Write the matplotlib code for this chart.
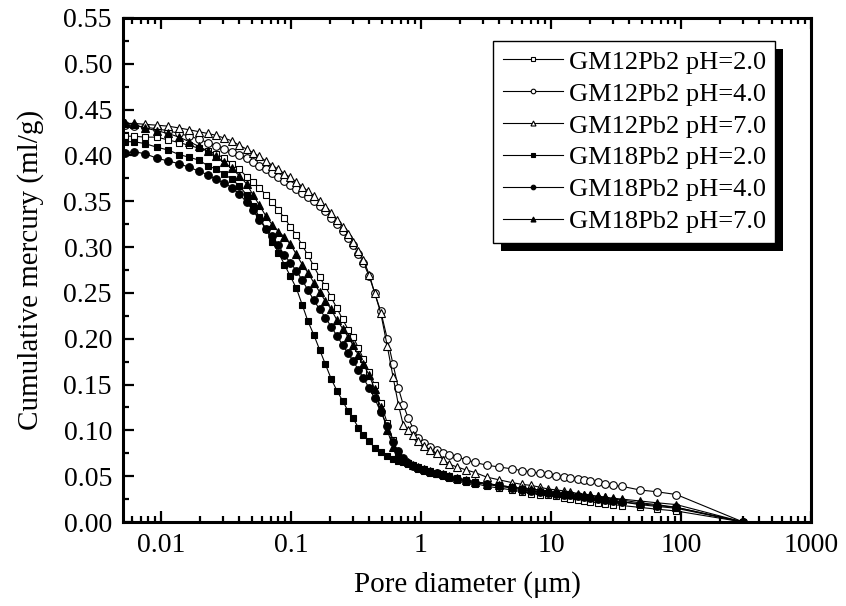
import matplotlib
matplotlib.use("Agg")
import matplotlib.pyplot as plt
from matplotlib.patches import Rectangle
from matplotlib.transforms import IdentityTransform
from matplotlib.ticker import FixedLocator, NullFormatter, MultipleLocator, FixedFormatter

plt.rcParams['font.family'] = ['Liberation Serif', 'DejaVu Serif']

# Pore diameter grid (um), shared by all samples
X = [0.0053, 0.0062, 0.0075, 0.0093, 0.0113, 0.0138, 0.0165, 0.0195, 0.0228, 0.0265,
     0.0305, 0.035, 0.040, 0.0455, 0.051, 0.057, 0.064, 0.072, 0.080, 0.089,
     0.099, 0.110, 0.122, 0.135, 0.150, 0.166, 0.184, 0.204, 0.226, 0.25,
     0.275, 0.30, 0.33, 0.36, 0.40, 0.44, 0.49, 0.55, 0.61, 0.67,
     0.73, 0.80, 0.87, 0.95, 1.05, 1.18, 1.32, 1.48, 1.65, 1.9,
     2.2, 2.6, 3.2, 4.0, 5.0, 6.0, 7.0, 8.2, 9.5, 11,
     12.5, 14, 16, 18, 20, 23, 26, 30, 35, 48,
     65, 92, 300]

gm12_ph2 = [0.421, 0.421, 0.420, 0.420, 0.417, 0.414, 0.411, 0.408, 0.405, 0.402,
            0.397, 0.391, 0.385, 0.377, 0.371, 0.365, 0.357, 0.349, 0.340, 0.332,
            0.322, 0.313, 0.302, 0.291, 0.279, 0.267, 0.257, 0.245, 0.233, 0.221,
            0.210, 0.202, 0.190, 0.178, 0.164, 0.149, 0.130, 0.108, 0.089, 0.074,
            0.068, 0.064, 0.061, 0.058, 0.056, 0.054, 0.052, 0.050, 0.048, 0.046,
            0.044, 0.042, 0.039, 0.037, 0.035, 0.033, 0.031, 0.030, 0.029, 0.028,
            0.026, 0.025, 0.024, 0.023, 0.022, 0.021, 0.020, 0.019, 0.018, 0.016,
            0.014, 0.012, 0.0]

gm12_ph4 = [0.433, 0.432, 0.431, 0.429, 0.427, 0.424, 0.421, 0.418, 0.414, 0.410,
            0.407, 0.404, 0.401, 0.397, 0.393, 0.389, 0.385, 0.381, 0.377, 0.372,
            0.368, 0.363, 0.359, 0.355, 0.350, 0.345, 0.339, 0.332, 0.325, 0.318,
            0.310, 0.302, 0.293, 0.283, 0.268, 0.250, 0.230, 0.200, 0.172, 0.146,
            0.128, 0.113, 0.102, 0.092, 0.086, 0.082, 0.079, 0.075, 0.073, 0.071,
            0.068, 0.065, 0.062, 0.060, 0.058, 0.056, 0.055, 0.053, 0.052, 0.050,
            0.049, 0.048, 0.047, 0.046, 0.045, 0.044, 0.042, 0.040, 0.039, 0.035,
            0.033, 0.030, 0.0]

gm12_ph7 = [0.435, 0.435, 0.434, 0.433, 0.432, 0.430, 0.428, 0.426, 0.424, 0.422,
            0.419, 0.416, 0.411, 0.407, 0.403, 0.399, 0.394, 0.389, 0.385, 0.380,
            0.376, 0.371, 0.366, 0.361, 0.356, 0.350, 0.344, 0.337, 0.330, 0.322,
            0.314, 0.306, 0.296, 0.286, 0.270, 0.250, 0.228, 0.192, 0.158, 0.128,
            0.106, 0.100, 0.095, 0.088, 0.083, 0.079, 0.075, 0.068, 0.063, 0.060,
            0.057, 0.054, 0.049, 0.046, 0.043, 0.041, 0.040, 0.038, 0.036, 0.035,
            0.034, 0.033, 0.031, 0.030, 0.029, 0.028, 0.027, 0.025, 0.024, 0.021,
            0.019, 0.016, 0.0]

gm18_ph2 = [0.415, 0.415, 0.413, 0.409, 0.406, 0.401, 0.398, 0.395, 0.389, 0.385,
            0.380, 0.374, 0.367, 0.357, 0.345, 0.333, 0.320, 0.306, 0.294, 0.281,
            0.268, 0.255, 0.237, 0.219, 0.204, 0.188, 0.172, 0.156, 0.143, 0.132,
            0.121, 0.113, 0.103, 0.095, 0.088, 0.081, 0.076, 0.072, 0.069, 0.067,
            0.065, 0.063, 0.062, 0.060, 0.058, 0.056, 0.054, 0.052, 0.050, 0.048,
            0.046, 0.044, 0.042, 0.040, 0.038, 0.036, 0.034, 0.033, 0.032, 0.031,
            0.030, 0.029, 0.028, 0.027, 0.026, 0.025, 0.024, 0.023, 0.022, 0.019,
            0.017, 0.015, 0.0]

gm18_ph4 = [0.403, 0.404, 0.402, 0.397, 0.394, 0.391, 0.387, 0.383, 0.379, 0.374,
            0.370, 0.365, 0.358, 0.349, 0.340, 0.330, 0.320, 0.312, 0.302, 0.291,
            0.283, 0.274, 0.264, 0.253, 0.242, 0.232, 0.223, 0.213, 0.203, 0.193,
            0.184, 0.176, 0.166, 0.157, 0.146, 0.135, 0.120, 0.105, 0.087, 0.077,
            0.070, 0.064, 0.061, 0.059, 0.057, 0.055, 0.053, 0.051, 0.049, 0.047,
            0.045, 0.043, 0.041, 0.039, 0.037, 0.035, 0.034, 0.033, 0.032, 0.031,
            0.030, 0.029, 0.028, 0.027, 0.026, 0.025, 0.024, 0.023, 0.022, 0.020,
            0.018, 0.016, 0.0]

gm18_ph7 = [0.435, 0.434, 0.430, 0.427, 0.424, 0.420, 0.415, 0.410, 0.405, 0.399,
            0.393, 0.386, 0.378, 0.369, 0.357, 0.346, 0.334, 0.324, 0.317, 0.311,
            0.303, 0.292, 0.281, 0.272, 0.261, 0.251, 0.241, 0.232, 0.220, 0.211,
            0.202, 0.193, 0.182, 0.172, 0.160, 0.145, 0.125, 0.100, 0.082, 0.073,
            0.068, 0.065, 0.062, 0.060, 0.058, 0.056, 0.054, 0.052, 0.050, 0.048,
            0.046, 0.044, 0.042, 0.040, 0.038, 0.037, 0.036, 0.035, 0.034, 0.033,
            0.032, 0.031, 0.030, 0.030, 0.029, 0.028, 0.027, 0.026, 0.025, 0.023,
            0.021, 0.019, 0.0]

labels = ["GM12Pb2 pH=2.0", "GM12Pb2 pH=4.0", "GM12Pb2 pH=7.0",
          "GM18Pb2 pH=2.0", "GM18Pb2 pH=4.0", "GM18Pb2 pH=7.0"]
series = [gm12_ph2, gm12_ph4, gm12_ph7, gm18_ph2, gm18_ph4, gm18_ph7]
markers = ['s', 'o', '^', 's', 'o', '^']
faces = ['white', 'white', 'white', 'black', 'black', 'black']
msizes = [5.0, 5.5, 6.0, 5.0, 5.5, 6.0]

W, H = 846, 606
fig = plt.figure(figsize=(W / 100, H / 100), dpi=100)
ax = fig.add_axes([123 / W, 1 - 522 / H, (811 - 123) / W, (522 - 18) / H])

for ys, lab, mk, fc, ms in zip(series, labels, markers, faces, msizes):
    ax.plot(X, ys, color='black', lw=0.8, marker=mk, markersize=ms,
            markerfacecolor=fc, markeredgecolor='black', markeredgewidth=0.8,
            label=lab)

ax.set_xscale('log')
ax.set_xlim(0.0051, 1000)
ax.set_ylim(0, 0.55)

xt = [0.01, 0.1, 1, 10, 100, 1000]
xtl = ["0.01", "0.1", "1", "10", "100", "1000"]
ax.xaxis.set_major_locator(FixedLocator(xt))
ax.xaxis.set_major_formatter(FixedFormatter(xtl))
minor = []
for d in [0.001, 0.01, 0.1, 1, 10, 100]:
    for k in range(2, 10):
        v = d * k
        if 0.0051 <= v <= 1000:
            minor.append(v)
ax.xaxis.set_minor_locator(FixedLocator(minor))
ax.xaxis.set_minor_formatter(NullFormatter())

ax.yaxis.set_major_locator(MultipleLocator(0.05))
ax.yaxis.set_minor_locator(MultipleLocator(0.025))
ax.yaxis.set_major_formatter(matplotlib.ticker.FormatStrFormatter('%.2f'))

ax.tick_params(which='both', direction='in', top=True, right=False, width=1.6)
ax.tick_params(which='major', length=8, labelsize=20, pad=8)
ax.tick_params(which='minor', length=4.5)
for s in ax.spines.values():
    s.set_linewidth(2.2)

ax.set_xlabel("Pore diameter (\u03bcm)", fontsize=21, labelpad=9)
ax.set_ylabel("Cumulative mercury (ml/g)", fontsize=21, labelpad=14)

leg = ax.legend(loc='upper right', bbox_to_anchor=(775 / W, 1 - 41 / H),
                bbox_transform=fig.transFigure, fontsize=19, frameon=True,
                fancybox=False, edgecolor='black', framealpha=1,
                markerscale=0.6, handlelength=2.3, handletextpad=0.2,
                labelspacing=0.32, borderpad=0.35, borderaxespad=0)
leg.get_frame().set_linewidth(1.0)
leg.set_zorder(10)

fig.canvas.draw()
bb = leg.get_window_extent()
shadow = Rectangle((bb.x0 + 8, bb.y0 - 8), bb.width, bb.height,
                   transform=IdentityTransform(), facecolor='black',
                   edgecolor='none', zorder=9, clip_on=False)
ax.add_artist(shadow)

fig.savefig("out.png", dpi=100)
